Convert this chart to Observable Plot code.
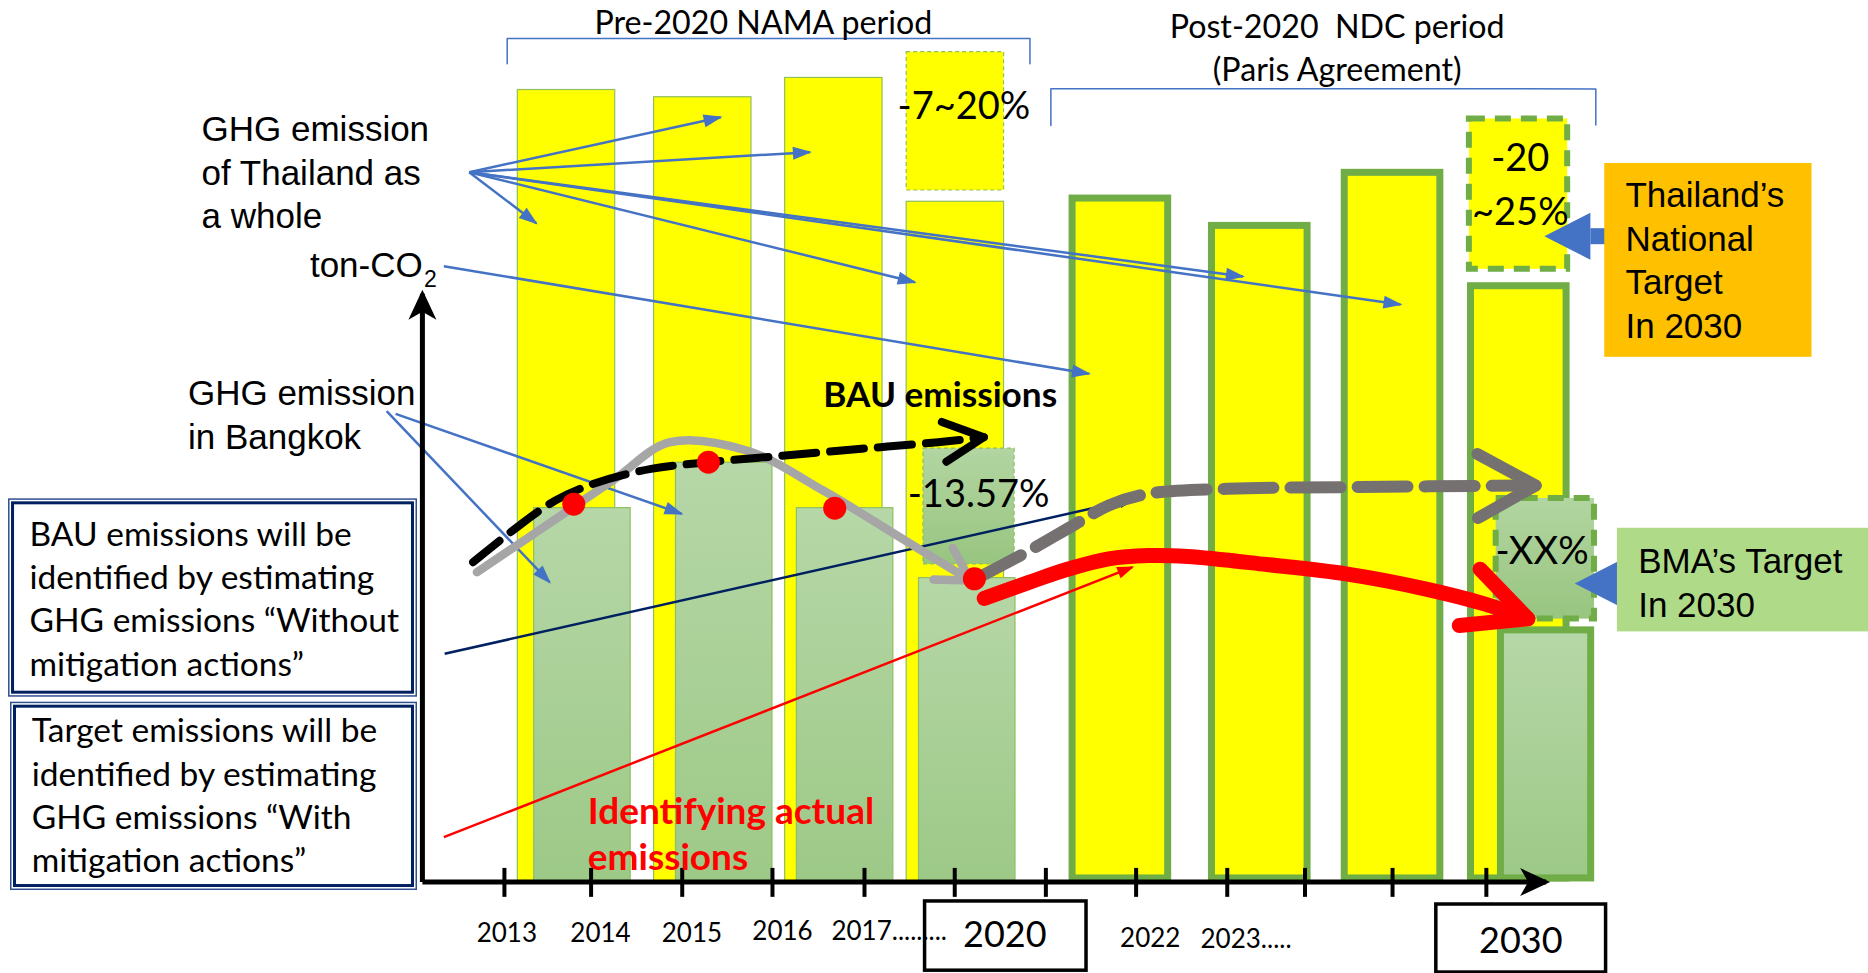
<!DOCTYPE html>
<html><head><meta charset="utf-8">
<script src="https://cdn.jsdelivr.net/npm/d3@7"></script>
<script src="https://cdn.jsdelivr.net/npm/@observablehq/plot@0.6"></script>
<style>html,body{margin:0;padding:0;background:#fff;overflow:hidden}#chart svg{display:block}</style>
</head><body><div id="chart"></div>
<script>
// ---------- DATA (x = position on the time axis in tick-slot units, 2013 tick = 0; y = emission level, arbitrary ton-CO2 units) ----------
// Thailand as a whole
const thaiSlot   = [0.695, 2.22, 3.687, 5.047, 6.894, 8.454, 9.94, 11.353];
const thaiValue  = [98.5, 97.6, 100.0, 84.6, 85.0, 81.6, 88.2, 74.1];
const thaiPeriod = ["pre", "pre", "pre", "pre", "post", "post", "post", "post"];
// Bangkok
const bkkSlot   = [0.873, 2.46, 3.813, 5.18, 11.658];
const bkkValue  = [46.5, 52.15, 46.5, 37.8, 31.3];
const bkkPeriod = ["pre", "pre", "pre", "pre", "post"];
// reduction segments (dashed boxes)
const cutGroup  = ["thai", "thai", "bkk", "bkk"];
const cutPeriod = ["pre", "post", "pre", "post"];
const cutSlot   = [5.047, 11.35, 5.2, 11.65];
const cutFrom   = [86.0, 76.2, 39.5, 32.7];
const cutTo     = [103.2, 94.9, 53.9, 47.7];
const cutLabel  = ["-7~20%", "-20\n~25%", "-13.57%", "-XX%"];
const cutLabelSlot  = [5.143, 11.37, 5.307, 11.614];
const cutLabelLevel = [94.9, 81.77, 46.62, 39.55];
// actual Bangkok emissions (red dots)
const actualSlot  = [0.776, 2.283, 3.697, 5.26];
const actualValue = [46.99, 52.21, 46.49, 37.71];
// curves
const trendSlot  = [-0.308, 0.356, 1.212, 1.854, 2.712, 3.568, 4.424, 5.216];
const trendValue = [38.54, 43.51, 49.94, 54.70, 53.67, 48.69, 42.89, 37.51];
const bauSlot  = [-0.351, 0.141, 0.570, 0.998, 1.641, 2.283, 3.139, 3.996, 4.852, 5.366];
const bauValue = [39.78, 44.13, 47.45, 49.53, 51.39, 52.21, 53.05, 53.88, 54.70, 55.32];
const bauFutureSlot  = [5.284, 5.877, 6.365, 6.763, 7.205, 8.090, 9.418, 11.542];
const bauFutureValue = [37.75, 41.24, 44.35, 46.84, 48.29, 48.91, 49.11, 49.32];
const targetSlot  = [5.37, 5.878, 6.32, 6.763, 7.205, 7.647, 8.532, 9.418, 10.303, 10.967, 11.454];
const targetValue = [35.28, 37.30, 38.96, 40.2, 40.61, 40.49, 39.49, 38.33, 36.47, 34.6, 32.74];
// pointer lines
const pointerKind      = ["blue","blue","blue","blue","blue","blue","blue","blue","blue","navy","red"];
const pointerFromSlot  = [-0.394,-0.394,-0.394,-0.394,-0.394,-0.394,-0.678,-1.318,-1.218,-0.669,-0.678];
const pointerFromValue = [88.28, 88.28, 88.28, 88.28, 88.28, 88.28, 76.59, 58.56, 58.23, 28.39, 5.58];
const pointerToSlot    = [0.356, 2.42, 3.419, 4.593, 8.265, 10.029, 6.542, 0.506, 1.983, 7.051, 7.028];
const pointerToValue   = [81.94, 95.12, 90.77, 74.6, 75.31, 71.83, 63.21, 37.29, 45.8, 47.66, 39.16];
// axes
const axisOriginSlot = -0.918, axisEndSlot = 11.659, axisEndValue = 73.15;
const tickSlots = [0, 0.97, 1.99, 3.0, 4.03, 5.04, 6.06, 7.07, 8.09, 8.96, 9.94, 10.99];
const yearLabels = ["2013", "2014", "2015", "2016", "2017.........", "2022", "2023....."];
const yearSlot   = [0.027, 1.075, 2.098, 3.112, 3.66, 7.228, 7.791];
const yearAnchor = ["middle", "middle", "middle", "middle", "start", "middle", "start"];
const yearLevel  = [-7.47, -7.47, -7.47, -7.26, -7.26, -8.06, -8.2];
const milestoneLabels = ["2020", "2030"];
const milestoneSlot   = [5.6, 11.376];
const milestoneLevel  = [-8.1, -8.85];
const milestoneBoxSlot  = [[4.708, 6.515], [10.43, 12.33]];
const milestoneBoxLevel = [[-2.41, -11.02], [-2.79, -11.25]];
// period brackets and titles
const bracketPeriod = ["pre","pre","pre","pre","post","post","post","post"];
const bracketSlot   = [0.031, 0.031, 5.882, 5.882, 6.116, 6.116, 12.215, 12.215];
const bracketValue  = [101.76, 104.9, 104.9, 101.76, 94.09, 98.65, 98.64, 94.15];
const periodTitle      = ["Pre-2020 NAMA period", "Post-2020\u00a0 NDC period\n(Paris Agreement)"];
const periodTitleSlot  = [2.898, 9.32];
const periodTitleLevel = [105.49, 99.68];
// series labels
const seriesLabel      = ["GHG emission\nof Thailand as\na whole", "ton-CO", "GHG emission\nin Bangkok"];
const seriesLabelSlot  = [-3.39, -2.177, -3.542];
const seriesLabelLevel = [81.32, 75.22, 53.88];
// notes (left boxes)
const noteText  = ["BAU emissions will be\nidentified by estimating\nGHG emissions “Without\nmitigation actions”",
                   "Target emissions will be\nidentified by estimating\nGHG emissions “With\nmitigation actions”"];
const noteSlot  = [[-5.55, -0.973], [-5.528, -0.973]];
const noteLevel = [[47.66, 22.99], [22.37, -1.05]];
const noteTextSlot  = [-5.315, -5.29];
const noteTextLevel = [25.67, 1.23];
// target callouts
const calloutText  = ["Thailand’s\nNational\nTarget\nIn 2030", "BMA’s Target\nIn 2030"];
const calloutFill  = ["#ffc000", "#afda88"];
const calloutSlot  = [[12.315, 14.635], [12.457, 15.4]];
const calloutLevel = [[89.36, 65.26], [44.0, 31.11]];
const calloutTextSlot  = [12.547, 12.689];
const calloutTextLevel = [67.72, 33.0];
const calloutArrowFrom = [12.4, 12.7];
const calloutArrowTo   = [12.154, 12.494];
const calloutArrowLevel = [80.32, 37.13];

// ---------- build records ----------
const thai = thaiSlot.map((s, i) => ({slot: s, value: thaiValue[i], period: thaiPeriod[i]}));
const bkk = bkkSlot.map((s, i) => ({slot: s, value: bkkValue[i], period: bkkPeriod[i]}));
const cuts = cutSlot.map((s, i) => ({slot: s, from: cutFrom[i], to: cutTo[i], group: cutGroup[i], period: cutPeriod[i],
  label: cutLabel[i], ls: cutLabelSlot[i], ll: cutLabelLevel[i]}));
const pts = (xs, ys) => xs.map((x, i) => ({slot: x, value: ys[i]}));
const pointers = pointerKind.map((k, i) => ({kind: k, x1: pointerFromSlot[i], y1: pointerFromValue[i], x2: pointerToSlot[i], y2: pointerToValue[i]}));
const axes = [{x1: axisOriginSlot, y1: 0, x2: axisOriginSlot, y2: axisEndValue}, {x1: axisOriginSlot, y1: 0, x2: axisEndSlot, y2: 0}];
const years = yearLabels.map((t, i) => ({t, slot: yearSlot[i], level: yearLevel[i], anchor: yearAnchor[i]}));
const miles = milestoneLabels.map((t, i) => ({t, slot: milestoneSlot[i], level: milestoneLevel[i],
  x1: milestoneBoxSlot[i][0], x2: milestoneBoxSlot[i][1], y1: milestoneBoxLevel[i][0], y2: milestoneBoxLevel[i][1]}));
const brackets = bracketSlot.map((s, i) => ({slot: s, value: bracketValue[i], period: bracketPeriod[i]}));
const titles = periodTitle.map((t, i) => ({t, slot: periodTitleSlot[i], level: periodTitleLevel[i]}));
const series = seriesLabel.map((t, i) => ({t, slot: seriesLabelSlot[i], level: seriesLabelLevel[i]}));
const notes = noteText.map((t, i) => ({t, x1: noteSlot[i][0], x2: noteSlot[i][1], y1: noteLevel[i][0], y2: noteLevel[i][1], ts: noteTextSlot[i], tl: noteTextLevel[i]}));
const callouts = calloutText.map((t, i) => ({t, fill: calloutFill[i], x1: calloutSlot[i][0], x2: calloutSlot[i][1], y1: calloutLevel[i][0], y2: calloutLevel[i][1],
  ts: calloutTextSlot[i], tl: calloutTextLevel[i], a1: calloutArrowFrom[i], a2: calloutArrowTo[i], al: calloutArrowLevel[i]}));

// ---------- styles ----------
const YELLOW = "#ffff00", GREEN = "#70ad47", THIN_GREEN = "#8fbf5f";
const W = {thai: {pre: 1.09, post: 1.07}, bkk: {pre: 1.08, post: 1.01}};
const CW = {thai: {pre: 1.09, post: 1.1}, bkk: {pre: 1.02, post: 1.1}};
const CAL = "Lato, 'Open Sans', sans-serif", ARIAL = "'Liberation Sans', Arial, sans-serif";

const chart = Plot.plot({
  width: 1868, height: 973, margin: 0,
  x: {domain: [-5.64, 15.267], axis: null},
  y: {domain: [-11.369, 109.63], axis: null},
  style: {background: "white"},
  marks: [
    // Thailand bars
    Plot.rect(thai.filter(d => d.period === "pre"), {x1: d => d.slot - W.thai.pre / 2, x2: d => d.slot + W.thai.pre / 2, y1: 0, y2: "value", fill: YELLOW, stroke: THIN_GREEN, strokeWidth: 1.2}),
    Plot.rect(thai.filter(d => d.period === "post"), {x1: d => d.slot - W.thai.post / 2, x2: d => d.slot + W.thai.post / 2, y1: 0.45, y2: "value", fill: YELLOW, stroke: GREEN, strokeWidth: 7}),
    Plot.rect(cuts.filter(d => d.group === "thai" && d.period === "pre"), {x1: d => d.slot - CW.thai.pre / 2, x2: d => d.slot + CW.thai.pre / 2, y1: "from", y2: "to", fill: YELLOW, stroke: THIN_GREEN, strokeWidth: 1.2, strokeDasharray: "4,3"}),
    Plot.rect(cuts.filter(d => d.group === "thai" && d.period === "post"), {x1: d => d.slot - CW.thai.post / 2, x2: d => d.slot + CW.thai.post / 2, y1: "from", y2: "to", fill: YELLOW, stroke: GREEN, strokeWidth: 6, strokeDasharray: "16,10"}),
    // Bangkok bars
    Plot.rect(bkk.filter(d => d.period === "pre"), {x1: d => d.slot - W.bkk.pre / 2, x2: d => d.slot + W.bkk.pre / 2, y1: 0, y2: "value", fill: "url(#bkkGrad)", stroke: THIN_GREEN, strokeWidth: 1.2}),
    Plot.rect(bkk.filter(d => d.period === "post"), {x1: d => d.slot - W.bkk.post / 2, x2: d => d.slot + W.bkk.post / 2, y1: 0.45, y2: "value", fill: "url(#bkkGrad)", stroke: GREEN, strokeWidth: 7}),
    Plot.rect(cuts.filter(d => d.group === "bkk" && d.period === "pre"), {x1: d => d.slot - CW.bkk.pre / 2, x2: d => d.slot + CW.bkk.pre / 2, y1: "from", y2: "to", fill: "url(#bkkGrad2)", stroke: THIN_GREEN, strokeWidth: 1.2, strokeDasharray: "4,3"}),
    Plot.rect(cuts.filter(d => d.group === "bkk" && d.period === "post"), {x1: d => d.slot - CW.bkk.post / 2, x2: d => d.slot + CW.bkk.post / 2, y1: "from", y2: "to", fill: "url(#bkkGrad2)", stroke: GREEN, strokeWidth: 6, strokeDasharray: "16,10"}),
    // period brackets
    Plot.line(brackets, {x: "slot", y: "value", z: "period", stroke: "#4472c4", strokeWidth: 1.5}),
    // pointer lines
    Plot.link(pointers.filter(d => d.kind === "blue"), {x1: "x1", y1: "y1", x2: "x2", y2: "y2", stroke: "#4472c4", strokeWidth: 2.5}),
    Plot.link(pointers.filter(d => d.kind === "navy"), {x1: "x1", y1: "y1", x2: "x2", y2: "y2", stroke: "#002060", strokeWidth: 2.5}),
    Plot.link(pointers.filter(d => d.kind === "red"), {x1: "x1", y1: "y1", x2: "x2", y2: "y2", stroke: "#ff0000", strokeWidth: 2.5}),
    // curves
    Plot.line(pts(trendSlot, trendValue), {x: "slot", y: "value", curve: "catmull-rom", stroke: "#a6a6a6", strokeWidth: 8.5}),
    Plot.line(pts(bauSlot, bauValue), {x: "slot", y: "value", curve: "catmull-rom", stroke: "#000", strokeWidth: 8, strokeDasharray: "34,14"}),
    Plot.line(pts(bauFutureSlot, bauFutureValue), {x: "slot", y: "value", curve: "catmull-rom", stroke: "#767171", strokeWidth: 12, strokeDasharray: "50,17"}),
    Plot.line(pts(targetSlot, targetValue), {x: "slot", y: "value", curve: "catmull-rom", stroke: "#ff0000", strokeWidth: 15}),
    Plot.dot(pts(actualSlot, actualValue), {x: "slot", y: "value", r: 11.5, fill: "#ff0000"}),
    // reduction labels
    Plot.text(cuts, {x: "ls", y: "ll", text: "label", textAnchor: "middle", lineAnchor: "bottom", lineHeight: 1.42, fontSize: 38, fontFamily: CAL, fill: "#000"}),
    // callouts
    Plot.link(callouts, {x1: "a1", y1: "al", x2: "a2", y2: "al", stroke: "#4472c4", strokeWidth: 16}),
    Plot.rect(callouts, {x1: "x1", x2: "x2", y1: "y1", y2: "y2", fill: "fill"}),
    Plot.text(callouts, {x: "ts", y: "tl", text: "t", textAnchor: "start", lineAnchor: "bottom", lineHeight: 1.24, fontSize: 35, fontFamily: ARIAL, fill: "#000"}),
    // axes
    Plot.link(axes, {x1: "x1", y1: "y1", x2: "x2", y2: "y2", stroke: "#000", strokeWidth: 5}),
    Plot.ruleX(tickSlots, {y1: -1.9, y2: 1.7, stroke: "#000", strokeWidth: 4}),
    Plot.rect(miles, {x1: "x1", x2: "x2", y1: "y1", y2: "y2", fill: "white", stroke: "#000", strokeWidth: 3.5}),
    Plot.text(miles, {x: "slot", y: "level", text: "t", textAnchor: "middle", lineAnchor: "bottom", fontSize: 36, fontFamily: CAL, fill: "#000"}),
    Plot.text(years.filter(d => d.anchor === "middle"), {x: "slot", y: "level", text: "t", textAnchor: "middle", lineAnchor: "bottom", fontSize: 26, fontFamily: CAL, fill: "#000"}),
    Plot.text(years.filter(d => d.anchor === "start"), {x: "slot", y: "level", text: "t", textAnchor: "start", lineAnchor: "bottom", fontSize: 26, fontFamily: CAL, fill: "#000"}),
    // notes
    Plot.rect(notes, {x1: "x1", x2: "x2", y1: "y1", y2: "y2", fill: "white", stroke: "#2f4f8f", strokeWidth: 1.5, inset: 0.75}),
    Plot.rect(notes, {x1: "x1", x2: "x2", y1: "y1", y2: "y2", fill: "none", stroke: "#002060", strokeWidth: 3, inset: 4.5}),
    Plot.text(notes, {x: "ts", y: "tl", text: "t", textAnchor: "start", lineAnchor: "bottom", lineHeight: 1.293, fontSize: 33.5, fontFamily: CAL, fill: "#000"}),
    // titles and labels
    Plot.text(titles, {x: "slot", y: "level", text: "t", textAnchor: "middle", lineAnchor: "bottom", lineHeight: 1.31, fontSize: 32.2, fontFamily: CAL, fill: "#000"}),
    Plot.text(series, {x: "slot", y: "level", text: "t", textAnchor: "start", lineAnchor: "bottom", lineHeight: 1.243, fontSize: 35, fontFamily: ARIAL, fill: "#000"}),
    Plot.text(["2"], {x: -0.9, y: 73.98, text: d => d, textAnchor: "start", lineAnchor: "bottom", fontSize: 23, fontFamily: ARIAL, fill: "#000"}),
    Plot.text(["BAU emissions"], {x: 3.569, y: 59.06, text: d => d, textAnchor: "start", lineAnchor: "bottom", fontSize: 35.2, fontWeight: "bold", fontFamily: CAL, fill: "#000"}),
    Plot.text(["Identifying actual\nemissions"], {x: 0.933, y: 1.44, text: d => d, textAnchor: "start", lineAnchor: "bottom", lineHeight: 1.27, fontSize: 37, fontWeight: "bold", fontFamily: CAL, fill: "#ff0000"})
  ]
});
document.getElementById("chart").appendChild(chart);

// ---------- gradients & markers ----------
const svg = d3.select(chart);
const defs = svg.insert("defs", ":first-child");
function grad(id, top, bottom) {
  const g = defs.append("linearGradient").attr("id", id).attr("x1", 0).attr("y1", 0).attr("x2", 0).attr("y2", 1);
  g.append("stop").attr("offset", "0%").attr("stop-color", top);
  g.append("stop").attr("offset", "100%").attr("stop-color", bottom);
}
grad("bkkGrad", "#b6d7a7", "#9dc987");
grad("bkkGrad2", "#b2d5a1", "#98c580");
function marker(id, d, opts) {
  const m = defs.append("marker").attr("id", id).attr("markerUnits", "userSpaceOnUse")
    .attr("viewBox", "-150 -150 300 300").attr("markerWidth", 300).attr("markerHeight", 300)
    .attr("refX", 0).attr("refY", 0).attr("orient", "auto").style("overflow", "visible");
  const p = m.append("path").attr("d", d);
  for (const k in opts) p.attr(k, opts[k]);
}
const chev = (dep, spr) => `M${-dep},${-spr}L0,0L${-dep},${spr}`;
const stroked = (c, w) => ({fill: "none", stroke: c, "stroke-width": w, "stroke-linecap": "round", "stroke-linejoin": "round"});
marker("m-trend", chev(32, 18.5), stroked("#a6a6a6", 8.5));
marker("m-bau", chev(40, 20), stroked("#000", 8));
marker("m-baufut", chev(58, 32), stroked("#767171", 12));
marker("m-target", chev(62, 30), stroked("#ff0000", 15));
marker("m-blue", "M-17,-6.5L2,0L-17,6.5Z", {fill: "#4472c4"});
marker("m-navy", "M-15,-6L2,0L-15,6Z", {fill: "#002060"});
marker("m-red", "M-15,-6L2,0L-15,6Z", {fill: "#ff0000"});
marker("m-axis", "M-26,-14L4,0L-26,14L-18,0Z", {fill: "#000"});
marker("m-callout", "M0,-23.5L46,0L0,23.5Z", {fill: "#4472c4"});
const setMarker = (sel, id) => svg.selectAll(sel + " path").attr("marker-end", `url(#${id})`);
setMarker('g[stroke="#a6a6a6"]', "m-trend");
setMarker('g[stroke="#000"][stroke-width="8"]', "m-bau");
setMarker('g[stroke="#767171"]', "m-baufut");
setMarker('g[stroke="#ff0000"][stroke-width="15"]', "m-target");
setMarker('g[stroke="#4472c4"][stroke-width="2.5"]', "m-blue");
setMarker('g[stroke="#002060"][stroke-width="2.5"]', "m-navy");
setMarker('g[stroke="#ff0000"][stroke-width="2.5"]', "m-red");
setMarker('g[stroke="#000"][stroke-width="5"]', "m-axis");
setMarker('g[stroke="#4472c4"][stroke-width="16"]', "m-callout");
</script></body></html>
